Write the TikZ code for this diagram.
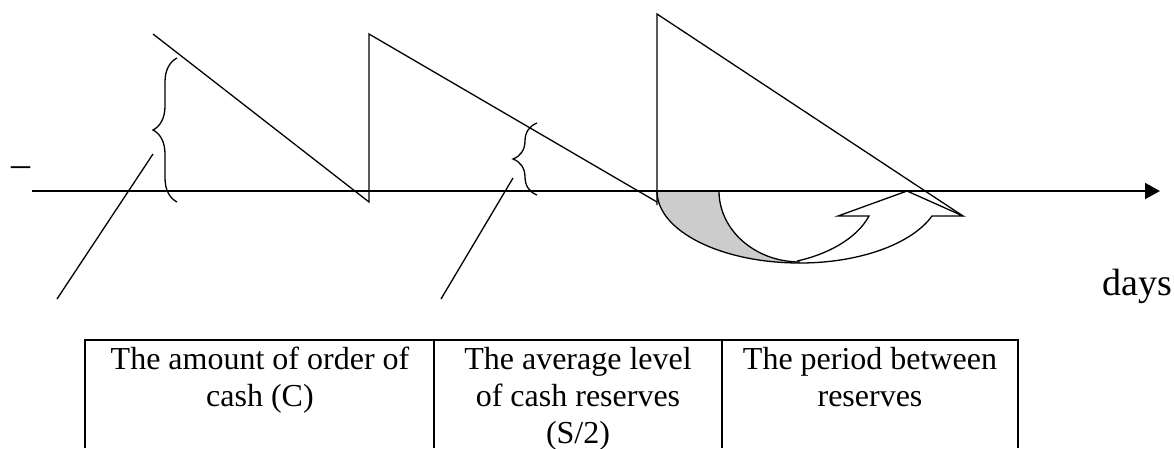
\documentclass[tikz,border=0pt]{standalone}
\usepackage{fontspec}
\setmainfont{Liberation Serif}
\usetikzlibrary{arrows.meta,decorations.pathreplacing}

\begin{document}
\begin{tikzpicture}[x=1pt,y=-1pt,
    thinline/.style={line width=1.3pt},
    tableline/.style={line width=1.8pt},
    cashbrace/.style={line width=1.3pt, decorate, decoration={brace, amplitude=24pt}},
    bigtext/.style={font=\fontsize{38}{45}\selectfont, inner sep=0pt},
    cell/.style={font=\fontsize{32}{36.8}\selectfont, align=center, inner sep=0pt, anchor=north}]
  \useasboundingbox (0,0) rectangle (1174,448);

  % time axis
  \coordinate (axstart) at (32,191);
  \coordinate (axend) at (1160,191);
  \node[bigtext, anchor=base west] (dash) at (11,176) {–};
  \node[bigtext, anchor=base west] (days) at (1102,295) {days};

  % curved arrow under the axis
  \fill[black!20] (657,191) .. controls (657,231) and (721,263) .. (800,263)
        .. controls (755,262) and (719,230) .. (719,191) -- cycle;
  \draw[thinline] (719,191) .. controls (719,230) and (755,262) .. (800,262);
  \draw[thinline] (657,191) .. controls (657,231) and (721,263) .. (800,263)
        .. controls (859,263) and (911.6,244.2) .. (932,216)
        -- (963,216) -- (907,191) -- (838,216) -- (869,216)
        .. controls (856,240) and (825,255) .. (797,261);

  \draw[line width=2pt, -{Triangle[length=15pt,width=16pt]}] (axstart) -- (axend);

  % saw tooth of the cash balance
  \coordinate (top1) at (153,34);
  \coordinate (low1) at (369,202);
  \coordinate (top2) at (369,34);
  \coordinate (low2) at (657,202);
  \coordinate (foot3) at (657,205);
  \coordinate (top3) at (657,14);
  \coordinate (low3) at (963,216);
  \draw[thinline] (top1) -- (low1) -- (top2) -- (low2);
  \draw[thinline] (foot3) -- (top3) -- (low3);

  % braces and pointers
  \draw[cashbrace] (177,202) -- (177,58);
  \draw[cashbrace] (537,195) -- (537,123);
  \coordinate (ptrC) at (153,154);
  \coordinate (endC) at (57,299);
  \coordinate (ptrS) at (513,178);
  \coordinate (endS) at (441,299);
  \draw[thinline] (ptrC) -- (endC);
  \draw[thinline] (ptrS) -- (endS);

  % table of labels
  \draw[tableline] (85,448) -- (85,340) -- (1018,340) -- (1018,448);
  \draw[tableline] (434,340) -- (434,448);
  \draw[tableline] (722,340) -- (722,448);
  \node[cell] (amount) at (260,347) {The amount of order of\\cash (C)};
  \node[cell] (average) at (578,347) {The average level\\of cash reserves\\(S/2)};
  \node[cell] (period) at (870,347) {The period between\\reserves};
\end{tikzpicture}
\end{document}
